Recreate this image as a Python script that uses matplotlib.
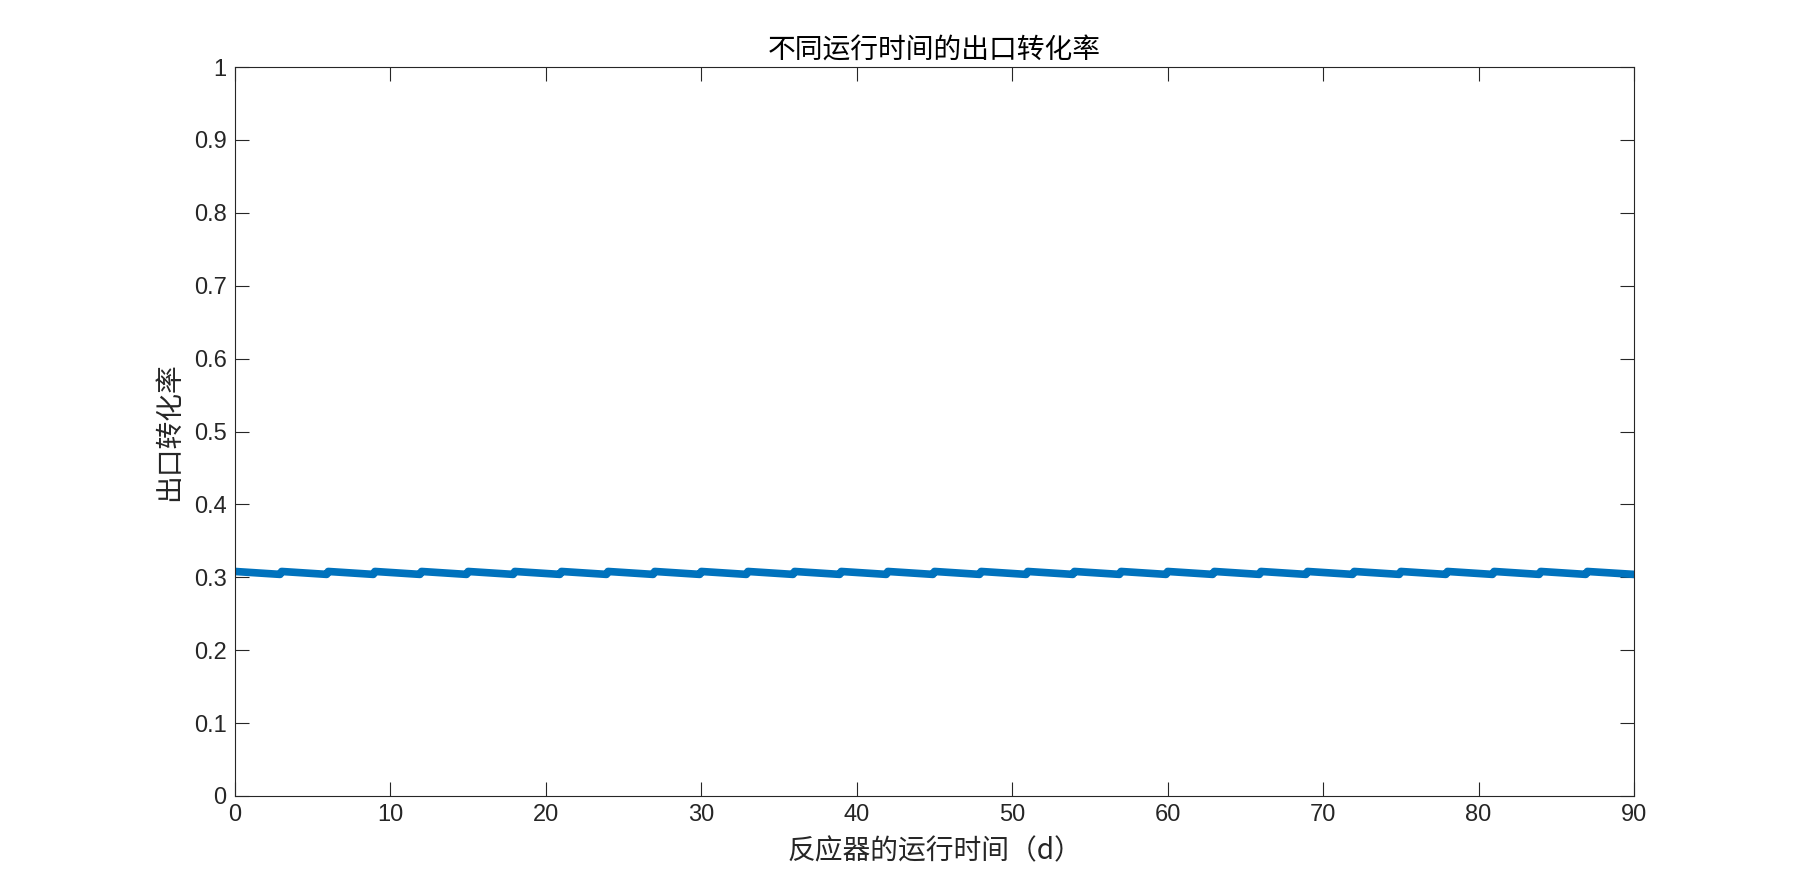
import matplotlib
matplotlib.use("Agg")
import matplotlib.pyplot as plt

# sawtooth: each 3-day cycle falls from peak to valley, then jumps back
days = [0, 2.9, 3, 5.9, 6, 8.9, 9, 11.9, 12, 14.9, 15, 17.9, 18, 20.9,
        21, 23.9, 24, 26.9, 27, 29.9, 30, 32.9, 33, 35.9, 36, 38.9, 39, 41.9,
        42, 44.9, 45, 47.9, 48, 50.9, 51, 53.9, 54, 56.9, 57, 59.9, 60, 62.9,
        63, 65.9, 66, 68.9, 69, 71.9, 72, 74.9, 75, 77.9, 78, 80.9, 81, 83.9,
        84, 86.9, 87, 90]
conversion = [0.308, 0.304] * 30

xticks = [0, 10, 20, 30, 40, 50, 60, 70, 80, 90]
yticks = [0, 0.1, 0.2, 0.3, 0.4, 0.5, 0.6, 0.7, 0.8, 0.9, 1]
ytick_labels = ['0', '0.1', '0.2', '0.3', '0.4', '0.5', '0.6', '0.7', '0.8', '0.9', '1']

cjk = ['Noto Sans CJK SC', 'DejaVu Sans']
num = ['Liberation Sans', 'DejaVu Sans']
ink = (0.15, 0.15, 0.15)

fig = plt.figure(figsize=(18.07, 8.90), dpi=100)
ax = fig.add_axes([235 / 1807, 1 - 796 / 890, (1634 - 235) / 1807, (796 - 67) / 890])

ax.plot(days, conversion, color='#0072BD', linewidth=5.5, solid_joinstyle='round')

ax.set_xlim(0, 90)
ax.set_ylim(0, 1)
ax.set_xticks(xticks)
ax.set_yticks(yticks)
ax.set_xticklabels([str(v) for v in xticks], family=num, fontsize=17, color=ink)
ax.set_yticklabels(ytick_labels, family=num, fontsize=17, color=ink)
ax.tick_params(direction='in', length=10, width=0.8, color=ink, top=True, right=True, pad=6)
for s in ax.spines.values():
    s.set_color(ink)
    s.set_linewidth(0.8)

ax.set_title('不同运行时间的出口转化率', family=cjk, fontsize=20, color='black', pad=6)
ax.set_xlabel('反应器的运行时间（d）', family=cjk, fontsize=20, color=ink, labelpad=7)
ax.set_ylabel('出口转化率', family=cjk, fontsize=20, color=ink, labelpad=7)

fig.savefig('out.png', dpi=100, facecolor='white')
